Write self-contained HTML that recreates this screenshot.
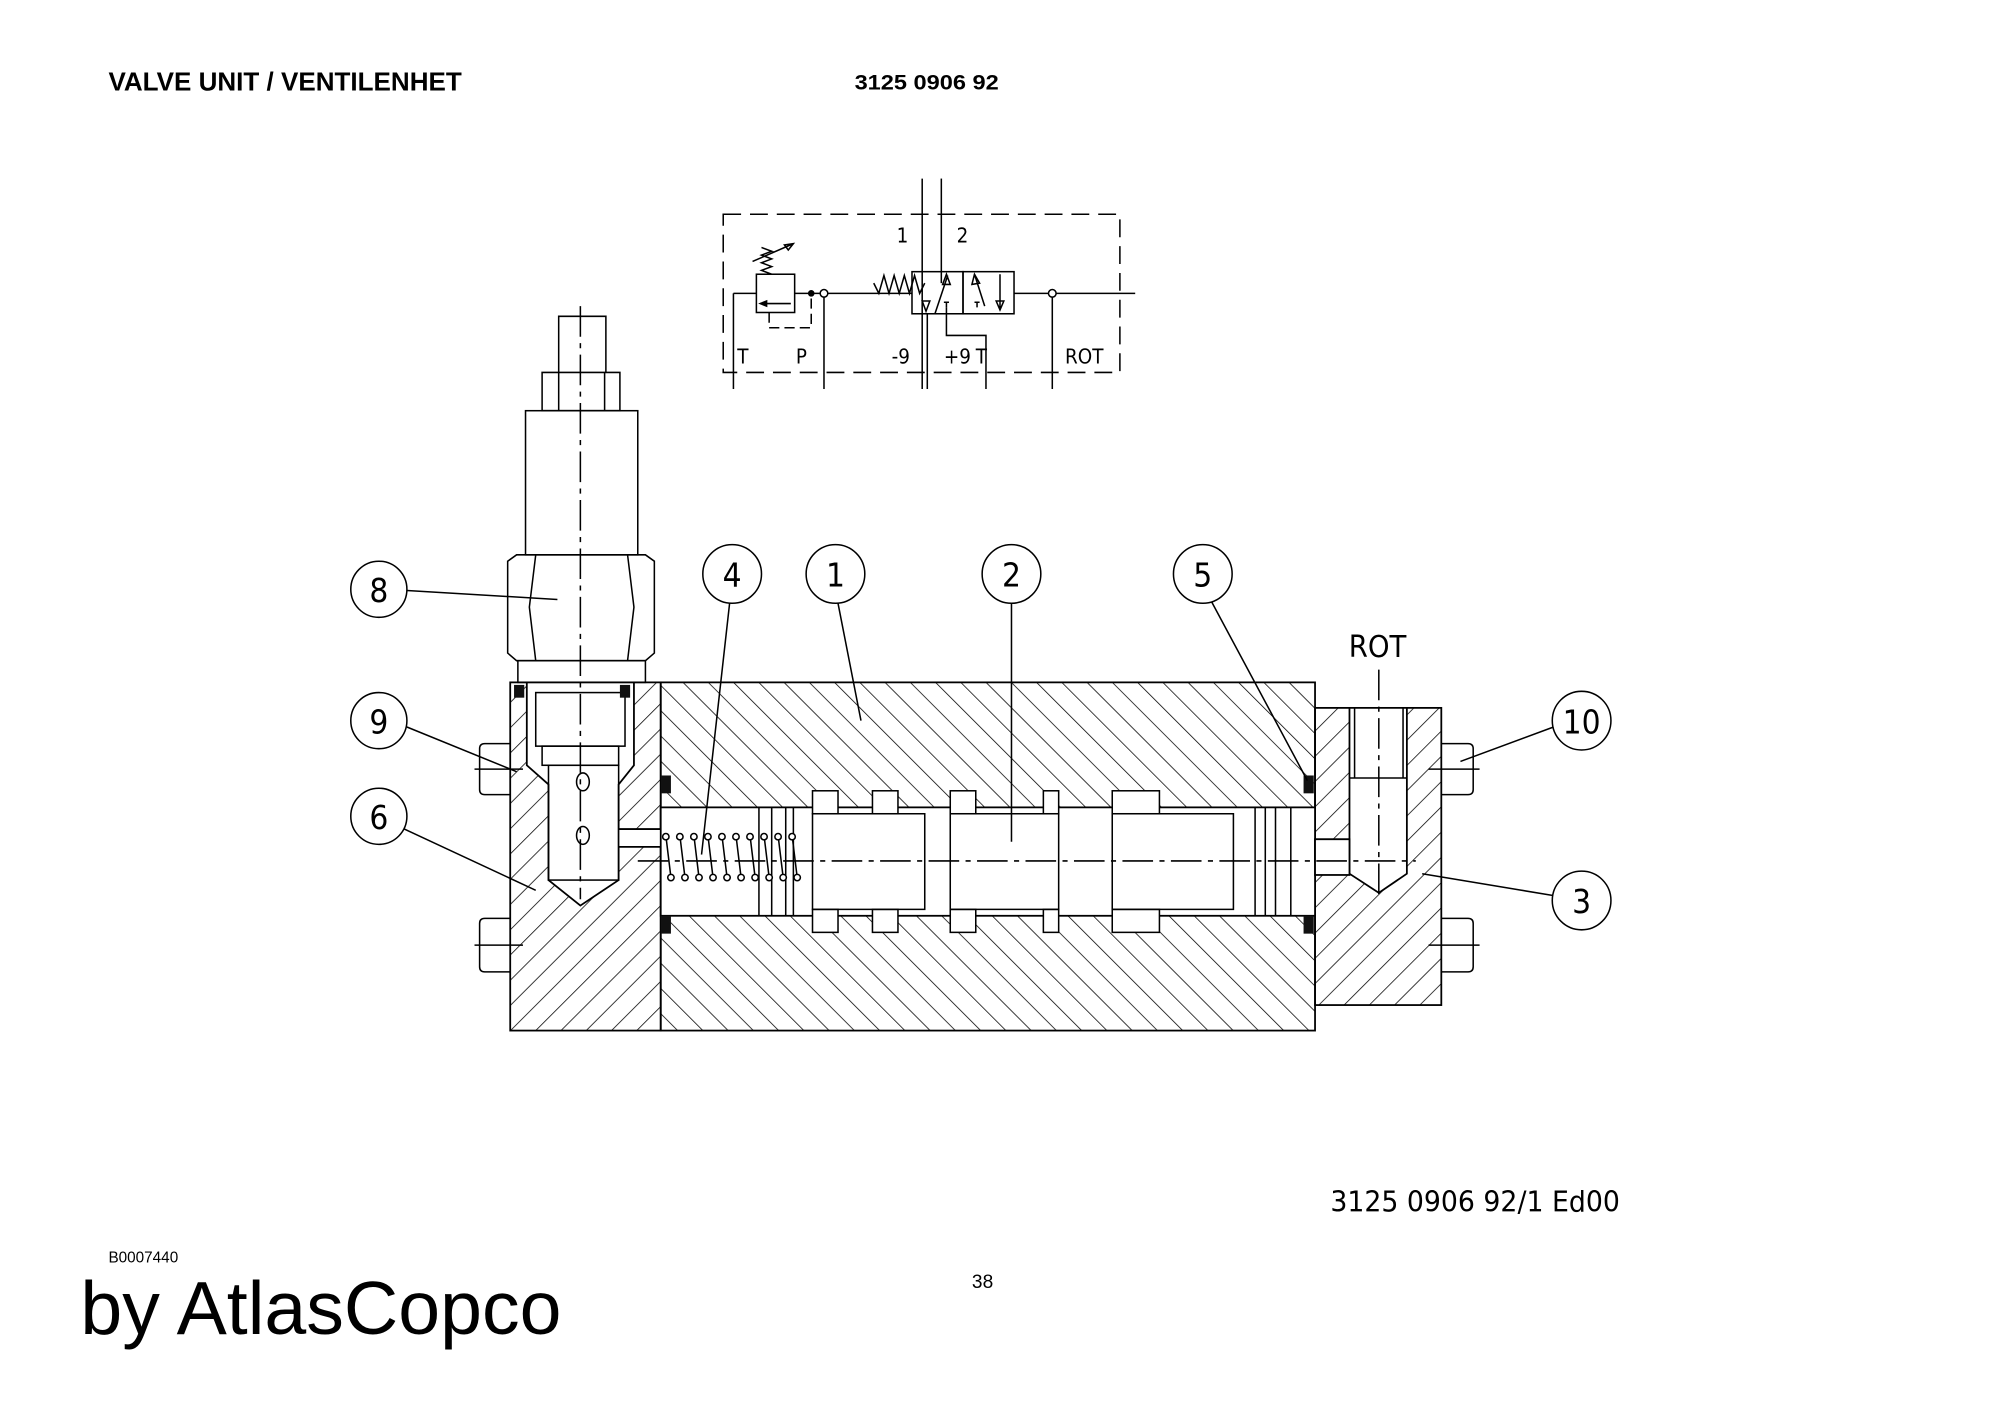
<!DOCTYPE html>
<html><head><meta charset="utf-8"><style>
html,body{margin:0;padding:0;background:#fff}
svg{display:block}
</style></head><body>
<svg width="2000" height="1415" viewBox="0 0 1568 1109.4" xmlns="http://www.w3.org/2000/svg" font-family="Liberation Sans, sans-serif">
<defs>
<pattern id="hA" width="14" height="14" patternUnits="userSpaceOnUse" patternTransform="rotate(-45)">
<line x1="0" y1="0" x2="0" y2="14" stroke="#000" stroke-width="1.2"/></pattern>
<pattern id="hB" width="14" height="14" patternUnits="userSpaceOnUse" patternTransform="rotate(45)">
<line x1="0" y1="0" x2="0" y2="14" stroke="#000" stroke-width="1.2"/></pattern>
</defs>
<rect width="1568" height="1110" fill="#fff"/>
<text x="85" y="71" font-size="20.5" font-weight="bold" textLength="277" lengthAdjust="spacingAndGlyphs">VALVE UNIT / VENTILENHET</text>
<text x="670" y="70" font-size="17" font-weight="bold" textLength="113" lengthAdjust="spacingAndGlyphs">3125 0906 92</text>

<!-- schematic -->
<g stroke="#000" stroke-width="1.2" fill="none">
<rect x="567" y="168" width="311" height="124" stroke-dasharray="14,7"/>
<line x1="723" y1="140" x2="723" y2="305"/><line x1="738" y1="140" x2="738" y2="222"/>
<rect x="593" y="215" width="30" height="30" fill="#fff"/>
<line x1="575" y1="230" x2="593" y2="230"/><line x1="575" y1="230" x2="575" y2="305"/>
<line x1="623" y1="230" x2="715" y2="230"/>
<line x1="596" y1="238" x2="620" y2="238"/><path d="M596 238 l5 -2 v4z" fill="#000"/>
<path d="M603 245 v12 h33 v-25" stroke-dasharray="8,4"/>
<path d="M605 215 l-8 -3 8 -3 -8 -3 8 -3 -8 -3 8 -3 -8 -3 M590 205 l32 -14 M622 191 l-7 1 3 4z"/>
<circle cx="636" cy="230" r="2" fill="#000"/><circle cx="646" cy="230" r="3" fill="#fff"/>
<line x1="646" y1="233" x2="646" y2="305"/>
<path d="M685 222 l4 8 4 -14 4 14 4 -14 4 14 4 -14 4 14 4 -14 4 14 4 -8"/>
<rect x="715" y="213" width="40" height="33"/><rect x="755" y="213" width="40" height="33"/>
<line x1="795" y1="230" x2="890" y2="230"/>
<circle cx="825" cy="230" r="3" fill="#fff"/><line x1="825" y1="233" x2="825" y2="305"/>
<path d="M733 246 L743 216 M764 215 L772 240 M784 215 L784 243 M726 244 l-3 -8 6 0z M742 215 l-3 8 6 0z M764 215 l-2 8 6 -1z M784 243 l-3 -7 6 0z"/>
<path d="M727 305 V246 M742 241 v-4 M740 237 h4 M766 241 v-4 M764 237 h4"/>
<path d="M742 241 V263 H773 V305"/>
</g>
<g font-size="16" font-family="DejaVu Sans Condensed, DejaVu Sans, sans-serif" font-weight="300">
<text x="703" y="190">1</text><text x="750" y="190">2</text>
<text x="578" y="285">T</text><text x="624" y="285">P</text>
<text x="699" y="285">-9</text><text x="740" y="285">+9</text><text x="765" y="285">T</text>
<text x="835" y="285">ROT</text>
</g>

<!-- main body -->
<g stroke="#000" stroke-width="1.4">
<rect x="400" y="535" width="118" height="273" fill="url(#hB)"/>
<rect x="518" y="535" width="513" height="273" fill="url(#hA)"/>
<rect x="1031" y="555" width="99" height="233" fill="url(#hB)"/>
<path d="M413 535 H497 V600 L485 615 V690 L455 710 L430 690 V615 L413 600Z" fill="#fff"/>
<rect x="485" y="650" width="33" height="14" fill="#fff" stroke="none"/>
<line x1="485" y1="650" x2="518" y2="650"/><line x1="485" y1="664" x2="518" y2="664"/>
<rect x="518" y="633" width="513" height="85" fill="#fff"/>
<path d="M1058 555 V676 H1031 V658 H1058 M1058 555 H1103 V685 L1081 700 L1058 685 Z" fill="#fff"/>
<rect x="1031" y="658" width="27" height="28" fill="#fff"/>
</g>
<g stroke="#000" stroke-width="1.2" fill="none">
<rect x="420" y="543" width="70" height="42"/><rect x="425" y="585" width="60" height="15"/>
<rect x="430" y="600" width="55" height="90"/>
<ellipse cx="457" cy="613" rx="5" ry="7"/><ellipse cx="457" cy="655" rx="5" ry="7"/>
<line x1="1062" y1="555" x2="1062" y2="610"/><line x1="1100" y1="555" x2="1100" y2="610"/><line x1="1058" y1="610" x2="1103" y2="610"/>
<rect x="637" y="620" width="20" height="18" fill="#fff"/><rect x="684" y="620" width="20" height="18" fill="#fff"/>
<rect x="745" y="620" width="20" height="18" fill="#fff"/><rect x="818" y="620" width="12" height="18" fill="#fff"/>
<rect x="872" y="620" width="37" height="18" fill="#fff"/>
<rect x="637" y="713" width="20" height="18" fill="#fff"/><rect x="684" y="713" width="20" height="18" fill="#fff"/>
<rect x="745" y="713" width="20" height="18" fill="#fff"/><rect x="818" y="713" width="12" height="18" fill="#fff"/>
<rect x="872" y="713" width="37" height="18" fill="#fff"/>
<path d="M637 638 H725 V713 H637 Z M745 638 H830 V713 H745 Z M872 638 H967 V713 H872 Z"/>
<path d="M595 633 V718 M605 633 V718 M616 633 V718 M622 633 V718 M984 633 V718 M992 633 V718 M1000 633 V718 M1012 633 V718"/>
<path d="M522 655 l4 33 M533 655 l4 33 M544 655 l4 33 M555 655 l4 33 M566 655 l4 33 M577 655 l4 33 M588 655 l4 33 M599 655 l4 33 M610 655 l4 33 M621 655 l4 33"/>
<g fill="#fff"><circle cx="522" cy="656" r="2.5"/><circle cx="533" cy="656" r="2.5"/><circle cx="544" cy="656" r="2.5"/><circle cx="555" cy="656" r="2.5"/><circle cx="566" cy="656" r="2.5"/><circle cx="577" cy="656" r="2.5"/><circle cx="588" cy="656" r="2.5"/><circle cx="599" cy="656" r="2.5"/><circle cx="610" cy="656" r="2.5"/><circle cx="621" cy="656" r="2.5"/>
<circle cx="526" cy="688" r="2.5"/><circle cx="537" cy="688" r="2.5"/><circle cx="548" cy="688" r="2.5"/><circle cx="559" cy="688" r="2.5"/><circle cx="570" cy="688" r="2.5"/><circle cx="581" cy="688" r="2.5"/><circle cx="592" cy="688" r="2.5"/><circle cx="603" cy="688" r="2.5"/><circle cx="614" cy="688" r="2.5"/><circle cx="625" cy="688" r="2.5"/></g>
<path d="M438 292 V248 H475 V292"/>
<path d="M425 292 H486 V322 H425 Z M438 292 V322 M474 292 V322"/>
<rect x="412" y="322" width="88" height="113"/>
<path d="M398 440 L405 435 H506 L513 440 V512 L506 518 H405 L398 512 Z M420 435 L415 476 L420 518 M492 435 L497 476 L492 518"/>
<rect x="406" y="518" width="100" height="17"/>
<path d="M400 583 H380 Q376 583 376 587 V619 Q376 623 380 623 H400 M400 720 H380 Q376 720 376 724 V758 Q376 762 380 762 H400"/>
<path d="M1130 583 H1151 Q1155 583 1155 587 V619 Q1155 623 1151 623 H1130 M1130 720 H1151 Q1155 720 1155 724 V758 Q1155 762 1151 762 H1130"/>
<path d="M372 603 H410 M372 741 H410 M1120 603 H1160 M1120 741 H1160"/>
<line x1="455" y1="240" x2="455" y2="705" stroke-dasharray="24,5,4,5"/>
<line x1="500" y1="675" x2="1110" y2="675" stroke-dasharray="24,5,4,5"/>
<line x1="1081" y1="525" x2="1081" y2="705" stroke-dasharray="24,5,4,5"/>
</g>
<g fill="#111">
<rect x="403" y="537" width="8" height="10"/><rect x="486" y="537" width="8" height="10"/>
<rect x="518" y="608" width="8" height="14"/><rect x="518" y="718" width="8" height="14"/>
<rect x="1022" y="608" width="8" height="14"/><rect x="1022" y="718" width="8" height="14"/>
</g>
<g stroke="#000" stroke-width="1.2" fill="none">
<circle cx="297" cy="462" r="22"/><circle cx="297" cy="565" r="22"/><circle cx="297" cy="640" r="22"/>
<circle cx="574" cy="450" r="23"/><circle cx="655" cy="450" r="23"/><circle cx="793" cy="450" r="23"/><circle cx="943" cy="450" r="23"/>
<circle cx="1240" cy="565" r="23"/><circle cx="1240" cy="706" r="23"/>
<path d="M319 463 L437 470 M319 570 L405 605 M317 650 L420 698 M572 473 L550 670 M657 473 L675 565 M793 473 L793 660 M950 472 L1025 612 M1218 570 L1145 597 M1217 702 L1115 685"/>
</g>
<g font-size="26" font-family="DejaVu Sans Condensed, DejaVu Sans, sans-serif" font-weight="300" text-anchor="middle">
<text x="297" y="472">8</text><text x="297" y="575">9</text><text x="297" y="650">6</text>
<text x="574" y="460">4</text><text x="655" y="460">1</text><text x="793" y="460">2</text><text x="943" y="460">5</text>
<text x="1240" y="575">10</text><text x="1240" y="716">3</text>
<text x="1080" y="515" font-size="24">ROT</text>
</g>

<text x="1043" y="950" font-size="22" font-family="DejaVu Sans, sans-serif" textLength="227" lengthAdjust="spacingAndGlyphs">3125 0906 92/1  Ed00</text>
<text x="85" y="990" font-size="12">B0007440</text>
<text x="762" y="1010" font-size="15">38</text>
<text x="63" y="1046" font-size="59">by AtlasCopco</text>
</svg>
</body></html>
